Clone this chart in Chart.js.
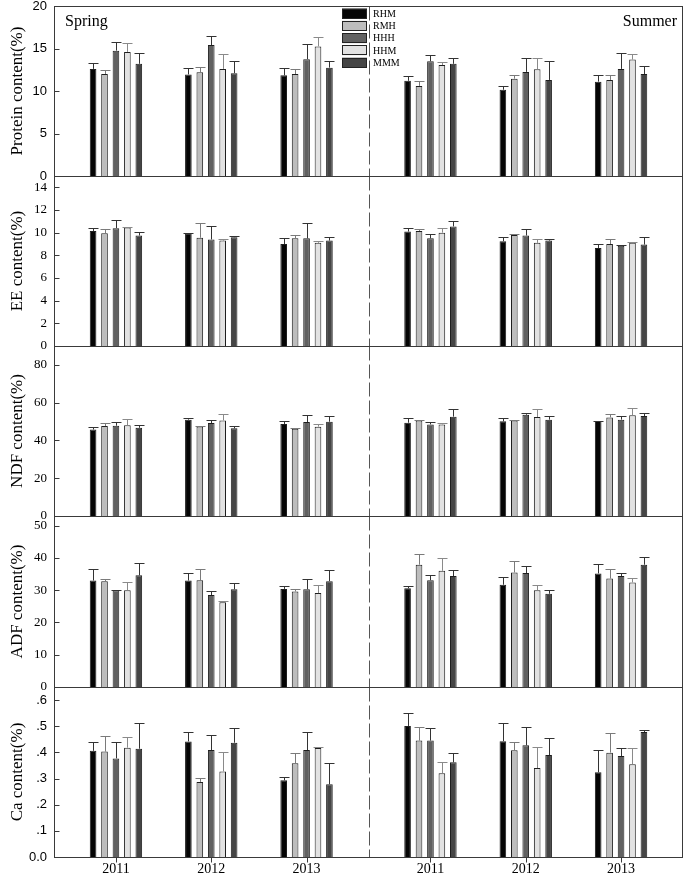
<!DOCTYPE html>
<html>
<head>
<meta charset="utf-8">
<script src="https://cdn.jsdelivr.net/npm/chart.js@4"></script>
<style>
  html, body { margin: 0; padding: 0; background: #fff; overflow: hidden; }
  #wrap { position: relative; width: 685px; height: 880px; }
  #wrap canvas { position: absolute; left: 0; top: 0; }
</style>
</head>
<body>
<div id="wrap"></div>
<script>
const seriesNames = ['RHM', 'RMH', 'HHH', 'HHM', 'MMM']
const yearLabels = ['2011', '2012', '2013', '2011', '2012', '2013']
const groupPositions = [0.65, 1.65, 2.65, 3.95, 4.95, 5.95]
const seasonLabels = ['Spring', 'Summer']

// one row per series (RHM..MMM), columns: spring 2011-2013, summer 2011-2013
const proteinMeans = [
  [12.6, 11.95, 11.85, 11.2, 10.15, 11.1],
  [12.0, 12.2, 12.0, 10.6, 11.45, 11.3],
  [14.75, 15.4, 13.75, 13.5, 12.25, 12.6],
  [14.6, 12.6, 15.25, 13.05, 12.55, 13.7],
  [13.2, 12.1, 12.75, 13.2, 11.3, 12.0]
]
const proteinErrors = [
  [0.7, 0.75, 0.85, 0.6, 0.4, 0.75],
  [0.45, 0.65, 0.6, 0.55, 0.4, 0.55],
  [1.05, 1.05, 1.8, 0.7, 1.65, 1.9],
  [1.05, 1.75, 1.05, 0.4, 1.3, 0.6],
  [1.3, 1.4, 0.75, 0.7, 2.2, 1.0]
]

const eeMeans = [
  [10.15, 9.95, 9.0, 10.1, 9.25, 8.65],
  [9.95, 9.55, 9.5, 10.15, 9.8, 9.0],
  [10.4, 9.4, 9.5, 9.5, 9.75, 8.85],
  [10.45, 9.3, 9.1, 10.0, 9.1, 9.1],
  [9.75, 9.6, 9.3, 10.55, 9.3, 8.95]
]
const eeErrors = [
  [0.25, 0.02, 0.5, 0.3, 0.4, 0.35],
  [0.4, 1.3, 0.3, 0.2, 0.05, 0.45],
  [0.7, 1.2, 1.35, 0.35, 0.55, 0.05],
  [0.05, 0.15, 0.2, 0.4, 0.35, 0.05],
  [0.3, 0.15, 0.3, 0.45, 0.15, 0.65]
]

const ndfMeans = [
  [45.8, 51.0, 48.7, 49.4, 50.1, 50.3],
  [47.6, 47.4, 46.2, 50.6, 50.6, 52.2],
  [47.8, 49.2, 49.7, 48.5, 53.6, 51.0],
  [48.0, 50.6, 47.3, 48.5, 52.4, 53.3],
  [46.7, 46.4, 49.9, 52.6, 51.0, 52.9]
]
const ndfErrors = [
  [1.5, 0.7, 1.6, 2.5, 1.8, 0.1],
  [1.4, 0.2, 0.3, 0.2, 0.4, 1.8],
  [1.8, 1.4, 3.9, 1.2, 0.7, 1.7],
  [3.3, 3.4, 1.2, 0.9, 4.1, 4.0],
  [1.4, 1.4, 3.2, 3.9, 1.9, 1.4]
]

const adfMeans = [
  [33.0, 33.0, 30.4, 30.6, 31.7, 35.2],
  [32.8, 33.1, 29.6, 37.9, 35.5, 33.6],
  [30.0, 28.5, 30.3, 33.1, 35.3, 34.4],
  [30.0, 26.3, 29.1, 36.0, 30.0, 32.4],
  [34.6, 30.3, 32.8, 34.4, 28.9, 37.9]
]
const adfErrors = [
  [3.5, 2.3, 0.8, 0.7, 2.3, 3.0],
  [0.8, 3.6, 0.7, 3.4, 3.4, 2.9],
  [0.1, 1.1, 3.2, 1.5, 2.3, 0.8],
  [2.4, 0.5, 2.6, 4.0, 1.5, 1.5],
  [3.8, 1.8, 3.6, 2.0, 1.1, 2.3]
]

const caMeans = [
  [0.406, 0.442, 0.293, 0.501, 0.443, 0.324],
  [0.403, 0.287, 0.358, 0.445, 0.408, 0.399],
  [0.377, 0.409, 0.409, 0.445, 0.427, 0.386],
  [0.418, 0.327, 0.417, 0.320, 0.340, 0.355],
  [0.414, 0.437, 0.278, 0.362, 0.390, 0.478]
]
const caErrors = [
  [0.035, 0.037, 0.011, 0.051, 0.069, 0.084],
  [0.058, 0.015, 0.041, 0.051, 0.033, 0.076],
  [0.064, 0.056, 0.069, 0.047, 0.069, 0.029],
  [0.039, 0.074, 0.005, 0.044, 0.079, 0.063],
  [0.099, 0.056, 0.081, 0.034, 0.066, 0.007]
]

const proteinTicks = [0, 5, 10, 15, 20]
const proteinTickLabels = ['0', '5', '10', '15', '20']
const eeTicks = [0, 2, 4, 6, 8, 10, 12, 14]
const eeTickLabels = ['0', '2', '4', '6', '8', '10', '12', '14']
const ndfTicks = [0, 20, 40, 60, 80]
const ndfTickLabels = ['0', '20', '40', '60', '80']
const adfTicks = [0, 10, 20, 30, 40, 50]
const adfTickLabels = ['0', '10', '20', '30', '40', '50']
const caTicks = [0, 0.1, 0.2, 0.3, 0.4, 0.5, 0.6]
const caTickLabels = ['0.0', '.1', '.2', '.3', '.4', '.5', '.6']

const serif = "'Liberation Serif', 'Times New Roman', serif"
const sans = "'Liberation Sans', Arial, sans-serif"
const barColors = ['#050505', '#bdbdbd', '#616161', '#e2e2e2', '#454545']
const errColors = ['#333333', '#7a7a7a', '#333333', '#8a8a8a', '#333333']
const W = 685, H = 880
const PLOT_LEFT = 54, PLOT_RIGHT = 683
const X_MAX = 6.6, DIVIDER = 3.3

const panels = [
  { title: 'Protein content(%)', means: proteinMeans, errors: proteinErrors, max: 20, ticks: proteinTicks, labels: proteinTickLabels, font: sans, top: 6, bottom: 176 },
  { title: 'EE content(%)', means: eeMeans, errors: eeErrors, max: 15, ticks: eeTicks, labels: eeTickLabels, font: serif, top: 176, bottom: 346 },
  { title: 'NDF content(%)', means: ndfMeans, errors: ndfErrors, max: 90, ticks: ndfTicks, labels: ndfTickLabels, font: serif, top: 346, bottom: 516 },
  { title: 'ADF content(%)', means: adfMeans, errors: adfErrors, max: 53, ticks: adfTicks, labels: adfTickLabels, font: serif, top: 516, bottom: 687 },
  { title: 'Ca content(%)', means: caMeans, errors: caErrors, max: 0.65, ticks: caTicks, labels: caTickLabels, font: sans, top: 687, bottom: 857 }
]

// error bars, frame, inner ticks, dashed season divider, legend
const panelDecor = {
  id: 'panelDecor',
  afterDatasetsDraw(chart, args, opts) {
    const ctx = chart.ctx
    const { left, right, top, bottom } = chart.chartArea
    const xs = chart.scales.x, ys = chart.scales.y
    ctx.save()
    ctx.lineWidth = 1

    chart.data.datasets.forEach((ds, i) => {
      const meta = chart.getDatasetMeta(i)
      ctx.strokeStyle = ds.errorColor
      meta.data.forEach((bar, j) => {
        const yTop = Math.round(ys.getPixelForValue(ds.data[j].y + ds.errors[j])) + 0.5
        const bx = Math.round(bar.x) + 0.5
        ctx.beginPath()
        ctx.moveTo(bx, bar.y)
        ctx.lineTo(bx, yTop)
        ctx.moveTo(bx - 5, yTop)
        ctx.lineTo(bx + 5, yTop)
        ctx.stroke()
      })
    })

    const L = Math.round(left) + 0.5, R = Math.round(right) - 0.5
    const T = Math.round(top) + 0.5, B = Math.round(bottom) + 0.5

    // dashed divider between spring and summer
    const dx = Math.round(xs.getPixelForValue(DIVIDER)) + 0.5
    ctx.strokeStyle = '#555'
    ctx.setLineDash([14, 4])
    ctx.beginPath()
    ctx.moveTo(dx, T)
    ctx.lineTo(dx, B)
    ctx.stroke()
    ctx.setLineDash([])

    // frame
    ctx.strokeStyle = '#3a3a3a'
    ctx.strokeRect(L, T, R - L, B - T)

    // y ticks point inward
    ys.ticks.forEach(t => {
      const ty = Math.round(ys.getPixelForValue(t.value)) + 0.5
      ctx.beginPath()
      ctx.moveTo(L, ty)
      ctx.lineTo(L + 5, ty)
      ctx.stroke()
    })

    if (opts.last) {
      xs.ticks.forEach(t => {
        const tx = Math.round(xs.getPixelForValue(t.value)) + 0.5
        ctx.beginPath()
        ctx.moveTo(tx, B)
        ctx.lineTo(tx, B + 5)
        ctx.stroke()
      })
    }

    if (opts.first) {
      ctx.fillStyle = '#000'
      ctx.font = '16px ' + serif
      ctx.textBaseline = 'alphabetic'
      ctx.textAlign = 'left'
      ctx.fillText(seasonLabels[0], 65, 26)
      ctx.textAlign = 'right'
      ctx.fillText(seasonLabels[1], 677, 26)

      // legend
      ctx.font = '10px ' + serif
      ctx.textAlign = 'left'
      ctx.textBaseline = 'middle'
      seriesNames.forEach((name, s) => {
        const by = 8.5 + s * 12.3
        ctx.fillStyle = barColors[s]
        ctx.fillRect(342, by, 25, 10)
        ctx.strokeStyle = '#222'
        ctx.strokeRect(342.5, Math.round(by) + 0.5, 24, 9)
        ctx.fillStyle = '#000'
        ctx.fillText(name, 373, by + 5.5)
      })
    }
    ctx.restore()
  }
}

const wrap = document.getElementById('wrap')

panels.forEach((p, idx) => {
  const canvas = document.createElement('canvas')
  canvas.width = W
  canvas.height = H
  wrap.appendChild(canvas)
  const isLast = idx === panels.length - 1

  new Chart(canvas, {
    type: 'bar',
    data: {
      datasets: seriesNames.map((name, s) => ({
        label: name,
        data: groupPositions.map((x, g) => ({ x: x, y: p.means[s][g] })),
        errors: p.errors[s],
        errorColor: errColors[s],
        backgroundColor: barColors[s],
        borderColor: '#1e1e1e',
        borderWidth: 1,
        categoryPercentage: 0.6,
        barPercentage: 0.58
      }))
    },
    options: {
      responsive: false,
      animation: false,
      devicePixelRatio: 1,
      layout: { padding: { left: 0, right: W - PLOT_RIGHT, top: p.top, bottom: 0 } },
      plugins: {
        legend: { display: false },
        tooltip: { enabled: false },
        panelDecor: { first: idx === 0, last: isLast }
      },
      scales: {
        x: {
          type: 'linear',
          min: 0,
          max: X_MAX,
          offset: false,
          grid: { display: false, drawTicks: false },
          border: { display: false },
          afterBuildTicks: axis => { axis.ticks = groupPositions.map(v => ({ value: v })) },
          afterFit: axis => {
            axis.height = H - p.bottom
            axis.paddingLeft = 0
            axis.paddingRight = 0
          },
          ticks: {
            display: isLast,
            autoSkip: false,
            maxRotation: 0,
            padding: 4,
            color: '#000',
            font: { family: serif, size: 14 },
            callback: (v, i) => yearLabels[i]
          }
        },
        y: {
          min: 0,
          max: p.max,
          grid: { display: false, drawTicks: false },
          border: { display: false },
          afterBuildTicks: axis => { axis.ticks = p.ticks.map(v => ({ value: v })) },
          afterFit: axis => {
            axis.width = PLOT_LEFT
            axis.paddingTop = 0
            axis.paddingBottom = 0
          },
          ticks: {
            padding: 7,
            color: '#000',
            font: { family: p.font, size: 13 },
            callback: (v, i) => p.labels[i]
          },
          title: {
            display: true,
            text: p.title,
            color: '#000',
            font: { family: serif, size: 17 },
            padding: { top: 7, bottom: 0 }
          }
        }
      }
    },
    plugins: [panelDecor]
  })
})
</script>
</body>
</html>
